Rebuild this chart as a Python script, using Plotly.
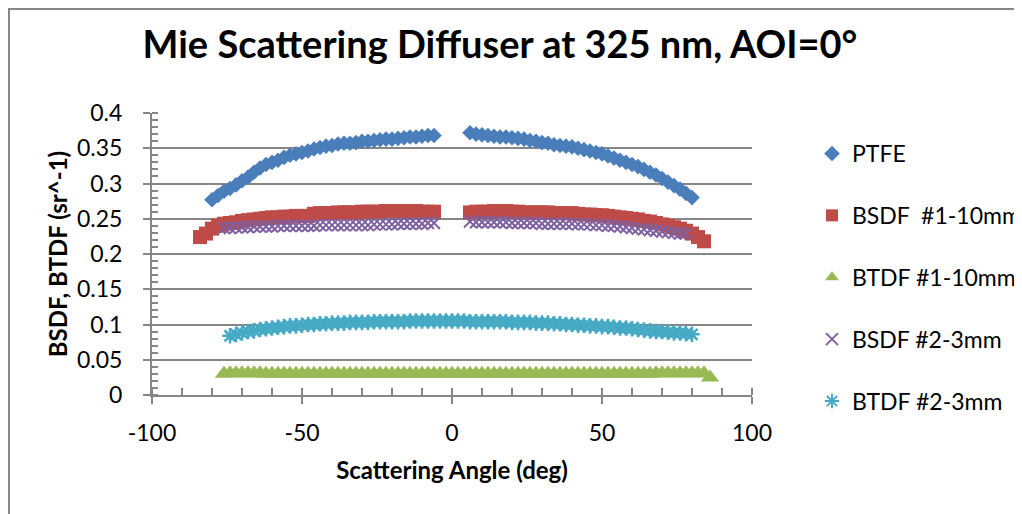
import plotly.graph_objects as go

# ---------------- data ----------------
SERIES_NAMES = ["PTFE", "BSDF\u00a0 #1-10mm", "BTDF #1-10mm", "BSDF #2-3mm", "BTDF #2-3mm"]

PTFE_ANGLE = [-80, -78, -76, -74, -72, -70, -68, -66, -64, -62, -60, -58, -56, -54, -52, -50, -48, -46, -44,
              -42, -40, -38, -36, -34, -32, -30, -28, -26, -24, -22, -20, -18, -16, -14, -12, -10, -8, -6,
              6, 8, 10, 12, 14, 16, 18, 20, 22, 24, 26, 28, 30, 32, 34, 36, 38, 40, 42, 44, 46, 48, 50,
              52, 54, 56, 58, 60, 62, 64, 66, 68, 70, 72, 74, 76, 78, 80]
PTFE_VALUE = [0.277, 0.283, 0.289, 0.293, 0.298, 0.304, 0.309, 0.316, 0.322, 0.327, 0.330, 0.333, 0.337,
              0.340, 0.342, 0.344, 0.346, 0.349, 0.351, 0.353, 0.354, 0.356, 0.357, 0.357, 0.358, 0.360,
              0.360, 0.361, 0.362, 0.363, 0.363, 0.364, 0.365, 0.366, 0.366, 0.367, 0.368, 0.368,
              0.372, 0.370, 0.369, 0.368, 0.367, 0.366, 0.366, 0.365, 0.364, 0.363, 0.361, 0.360, 0.358,
              0.357, 0.355, 0.354, 0.353, 0.352, 0.350, 0.348, 0.346, 0.344, 0.342, 0.339, 0.336, 0.333,
              0.330, 0.327, 0.324, 0.320, 0.316, 0.312, 0.307, 0.302, 0.297, 0.292, 0.286, 0.280]

BSDF1_ANGLE = [-84, -82, -80, -78, -76, -74, -72, -70, -68, -66, -64, -62, -60, -58, -56, -54, -52, -50,
               -48, -46, -44, -42, -40, -38, -36, -34, -32, -30, -28, -26, -24, -22, -20, -18, -16, -14,
               -12, -10, -8, -6,
               6, 8, 10, 12, 14, 16, 18, 20, 22, 24, 26, 28, 30, 32, 34, 36, 38, 40, 42, 44, 46, 48, 50,
               52, 54, 56, 58, 60, 62, 64, 66, 68, 70, 72, 74, 76, 78, 80, 82, 84]
BSDF1_VALUE = [0.224, 0.229, 0.236, 0.240, 0.243, 0.244, 0.245, 0.247, 0.248, 0.249,
               0.250, 0.251, 0.252, 0.252, 0.253, 0.253, 0.254, 0.254, 0.254, 0.257,
               0.258, 0.258, 0.258, 0.259, 0.259, 0.259, 0.259, 0.260, 0.260, 0.260,
               0.260, 0.261, 0.261, 0.261, 0.261, 0.260, 0.261, 0.260, 0.260, 0.260,
               0.259, 0.260, 0.260, 0.260, 0.261, 0.261, 0.261, 0.260, 0.260, 0.259,
               0.259, 0.259, 0.259, 0.259, 0.258, 0.258, 0.258, 0.258, 0.257, 0.256,
               0.256, 0.255, 0.255, 0.254, 0.253, 0.252, 0.251, 0.250, 0.249, 0.247,
               0.246, 0.244, 0.242, 0.240, 0.238, 0.236, 0.233, 0.229, 0.224, 0.218]

BTDF1_ANGLE = [-76, -74, -72, -70, -68, -66, -64, -62, -60, -58, -56, -54, -52, -50, -48, -46, -44, -42,
               -40, -38, -36, -34, -32, -30, -28, -26, -24, -22, -20, -18, -16, -14, -12, -10, -8, -6,
               -4, -2, 0, 2, 4, 6, 8, 10, 12, 14, 16, 18, 20, 22, 24, 26, 28, 30, 32, 34, 36, 38, 40,
               42, 44, 46, 48, 50, 52, 54, 56, 58, 60, 62, 64, 66, 68, 70, 72, 74, 76, 78, 80, 82, 84, 86]
BTDF1_VALUE = [0.030, 0.031, 0.031, 0.031, 0.031, 0.031, 0.031,
               0.030, 0.030, 0.030, 0.030, 0.030, 0.030, 0.030, 0.030, 0.030, 0.030,
               0.030, 0.030, 0.030, 0.030, 0.030, 0.030, 0.030, 0.030, 0.030, 0.030,
               0.030, 0.030, 0.030, 0.030, 0.030, 0.030, 0.030, 0.030, 0.030, 0.030, 0.030,
               0.030, 0.030, 0.030, 0.030, 0.030, 0.030, 0.030, 0.030, 0.030, 0.030,
               0.030, 0.030, 0.030, 0.030, 0.030, 0.030, 0.030, 0.030, 0.030, 0.030,
               0.030, 0.030, 0.030, 0.030, 0.030, 0.030, 0.030, 0.030, 0.030, 0.030,
               0.030, 0.030, 0.030, 0.030, 0.031, 0.031, 0.031, 0.031, 0.031, 0.031,
               0.031, 0.031, 0.031, 0.025]

BSDF2_ANGLE = [-76, -74, -72, -70, -68, -66, -64, -62, -60, -58, -56, -54, -52, -50, -48, -46, -44, -42,
               -40, -38, -36, -34, -32, -30, -28, -26, -24, -22, -20, -18, -16, -14, -12, -10, -8, -6,
               6, 8, 10, 12, 14, 16, 18, 20, 22, 24, 26, 28, 30, 32, 34, 36, 38, 40, 42, 44, 46, 48, 50,
               52, 54, 56, 58, 60, 62, 64, 66, 68, 70, 72, 74, 76, 78]
BSDF2_VALUE = [0.237, 0.237, 0.238, 0.238, 0.238, 0.239, 0.239, 0.239, 0.239, 0.240,
               0.240, 0.240, 0.240, 0.240, 0.240, 0.240, 0.241, 0.241, 0.241, 0.241,
               0.241, 0.241, 0.241, 0.241, 0.241, 0.242, 0.242, 0.242, 0.242, 0.243,
               0.243, 0.243, 0.243, 0.243, 0.244, 0.244,
               0.246, 0.245, 0.245, 0.245, 0.245, 0.245, 0.245, 0.244, 0.244, 0.244,
               0.244, 0.244, 0.243, 0.243, 0.243, 0.243, 0.243, 0.243, 0.242, 0.242,
               0.242, 0.241, 0.241, 0.240, 0.240, 0.239, 0.238, 0.237, 0.236, 0.235,
               0.234, 0.233, 0.232, 0.231, 0.230, 0.229, 0.229]

BTDF2_ANGLE = [-74, -72, -70, -68, -66, -64, -62, -60, -58, -56, -54, -52, -50, -48, -46, -44, -42, -40,
               -38, -36, -34, -32, -30, -28, -26, -24, -22, -20, -18, -16, -14, -12, -10, -8, -6, -4, -2,
               0, 2, 4, 6, 8, 10, 12, 14, 16, 18, 20, 22, 24, 26, 28, 30, 32, 34, 36, 38, 40, 42, 44, 46,
               48, 50, 52, 54, 56, 58, 60, 62, 64, 66, 68, 70, 72, 74, 76, 78, 80]
BTDF2_VALUE = [0.084, 0.086, 0.088, 0.090, 0.091, 0.093, 0.094, 0.095, 0.096, 0.097,
               0.098, 0.098, 0.099, 0.100, 0.100, 0.101, 0.101, 0.102, 0.102, 0.102,
               0.103, 0.103, 0.103, 0.103, 0.104, 0.104, 0.104, 0.104, 0.104, 0.104,
               0.105, 0.105, 0.105, 0.105, 0.105, 0.105, 0.105, 0.105, 0.105, 0.105,
               0.104, 0.104, 0.104, 0.104, 0.104, 0.104, 0.104, 0.103, 0.103, 0.103,
               0.103, 0.102, 0.102, 0.102, 0.101, 0.101, 0.100, 0.100, 0.099, 0.099,
               0.098, 0.098, 0.097, 0.097, 0.096, 0.095, 0.095, 0.094, 0.093, 0.092,
               0.091, 0.090, 0.090, 0.089, 0.088, 0.088, 0.087, 0.086]

X_TICKS = [-100, -50, 0, 50, 100]
X_TICK_TEXT = ["-100", "-50", "0", "50", "100"]
Y_TICKS = [0, 0.05, 0.1, 0.15, 0.2, 0.25, 0.3, 0.35, 0.4]
Y_TICK_TEXT = ["0", "0.05", "0.1", "0.15", "0.2", "0.25", "0.3", "0.35", "0.4"]

TITLE = "Mie Scattering Diffuser at 325 nm, AOI=0°"
X_TITLE = "Scattering Angle (deg)"
Y_TITLE = "BSDF, BTDF (sr^-1)"

# ---------------- styling ----------------
FONT = "Lato, 'Open Sans', sans-serif"
GRAY = "#868686"
COLORS = ["#4A7EBB", "#BE4B48", "#98B954", "#7D60A0", "#46AAC5"]
SYMBOLS = ["diamond", "square", "triangle-up", "x-thin-open", "asterisk-open"]
SIZES = [12, 14, 16, 12, 13]
LINE_W = [0, 0, 0, 2, 2.5]

series = [
    (PTFE_ANGLE, PTFE_VALUE),
    (BSDF1_ANGLE, BSDF1_VALUE),
    (BTDF1_ANGLE, BTDF1_VALUE),
    (BSDF2_ANGLE, BSDF2_VALUE),
    (BTDF2_ANGLE, BTDF2_VALUE),
]

fig = go.Figure()
for i, ((xs, ys), name) in enumerate(zip(series, SERIES_NAMES)):
    fig.add_trace(go.Scatter(
        x=xs, y=ys, name=name, mode="markers", legendgroup=f"g{i}",
        marker=dict(symbol=SYMBOLS[i], size=SIZES[i], color=COLORS[i],
                    line=dict(width=LINE_W[i], color=COLORS[i])),
    ))

# invisible helper trace on an overlaying axis: draws the inside half of the crossing major x ticks
fig.add_trace(go.Scatter(x=[X_TICKS[0], X_TICKS[-1]], y=[0, 0], xaxis="x2", mode="markers",
                         marker=dict(opacity=0), showlegend=False, hoverinfo="skip"))

# the page puts the figure 8 px in from the window's corner; layout pixels are figure pixels
W, H = 1022, 514
L, R, T, B = 144, 744, 105, 387

fig.update_layout(
    width=W, height=H,
    margin=dict(l=L, r=W - R, t=T, b=H - B, pad=0),
    paper_bgcolor="white", plot_bgcolor="white",
    font=dict(family=FONT, size=23, color="black"),
    showlegend=True,
    title=dict(text=f"<b>{TITLE}</b>", font=dict(family=FONT, size=38, color="black"),
               x=492 / W, xref="container", xanchor="center",
               y=1 - 37 / H, yref="container", yanchor="middle"),
    legend=dict(x=804 / W, xref="container", xanchor="left",
                y=1 - 124 / H, yref="container", yanchor="top",
                font=dict(family=FONT, size=23, color="black"),
                traceorder="grouped", tracegroupgap=29, bgcolor="rgba(0,0,0,0)",
                itemsizing="constant", maxheight=500),
    xaxis=dict(range=[-100, 100], tickvals=X_TICKS, ticktext=X_TICK_TEXT, ticks="outside", ticklen=7,
               tickwidth=2, tickcolor=GRAY, showline=True, linecolor=GRAY, linewidth=2, showgrid=False,
               zeroline=False, ticklabelstandoff=9,
               tickfont=dict(family=FONT, size=23, color="black"),
               minor=dict(dtick=10, ticks="inside", ticklen=7, tickwidth=2, tickcolor=GRAY, showgrid=False),
               title=dict(text=f"<b>{X_TITLE}</b>", font=dict(family=FONT, size=24, color="black"),
                          standoff=18)),
    xaxis2=dict(range=[-100, 100], overlaying="x", side="bottom", tickvals=X_TICKS, ticks="inside",
                ticklen=7, tickwidth=2, tickcolor=GRAY, showticklabels=False, showline=False,
                showgrid=False, zeroline=False),
    yaxis=dict(range=[0, 0.4], tickvals=Y_TICKS, ticktext=Y_TICK_TEXT, ticks="outside", ticklen=7,
               tickwidth=2, tickcolor=GRAY, showline=True, linecolor=GRAY, linewidth=2,
               showgrid=True, gridcolor=GRAY, gridwidth=2, zeroline=False, ticklabelstandoff=16,
               tickfont=dict(family=FONT, size=23, color="black"),
               minor=dict(dtick=0.01, ticks="inside", ticklen=6, tickwidth=1.5, tickcolor=GRAY,
                          showgrid=False),
               title=dict(text=f"<b>{Y_TITLE}</b>", font=dict(family=FONT, size=24, color="black"),
                          standoff=3)),
)

# outer chart-area border (only its top and left edges fall inside the window)
fig.add_shape(type="rect", xref="paper", yref="paper",
              x0=(1 - L) / (R - L), x1=(1040 - L) / (R - L),
              y0=(B - 530) / (B - T), y1=(B - 1) / (B - T),
              line=dict(color=GRAY, width=2), fillcolor="rgba(0,0,0,0)", layer="below")

fig.write_html("out.html")
